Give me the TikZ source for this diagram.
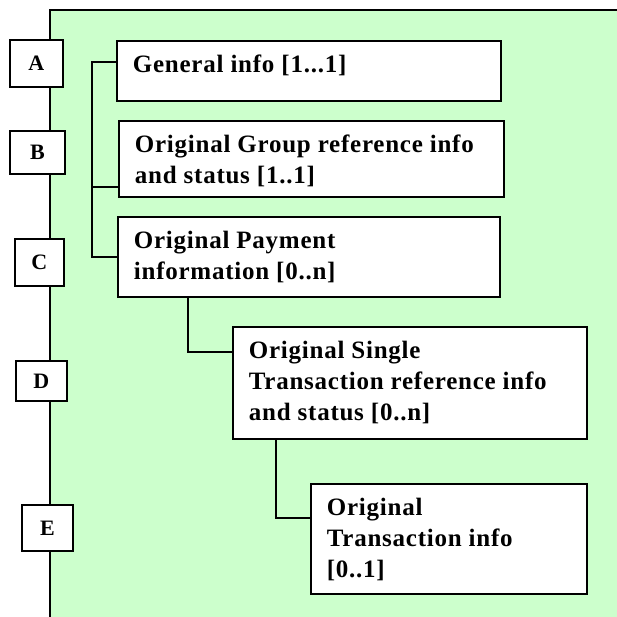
\documentclass[tikz,border=0pt]{standalone}
\usepackage{fontspec}
\setmainfont{Liberation Serif}[LetterSpace=3]
\definecolor{panelgreen}{RGB}{204,255,204}
\tikzset{
  lbl/.style={draw, fill=white, inner sep=0pt, anchor=north west,
    font=\fontsize{22}{26}\selectfont\bfseries},
  infobox/.style={draw, fill=white, inner sep=0pt, anchor=north west},
  txt/.style={anchor=north west, inner sep=0pt, align=left, xshift=16pt, yshift=-14pt,
    font=\fontsize{25}{31}\selectfont\bfseries},
  conn/.style={draw=black}
}
\begin{document}
\begin{tikzpicture}[x=1pt, y=-1pt, line width=1.8pt]
\useasboundingbox (0,0) rectangle (617,616);
% panel
\fill[panelgreen] (50,10) rectangle (617,617);
\draw (50,617) -- (50,10) -- (617,10);
% letter boxes
\node[lbl, minimum width=53pt, minimum height=47pt] (A) at (9,39) {A};
\node[lbl, minimum width=55pt, minimum height=43pt] (B) at (9,130) {B};
\node[lbl, minimum width=49pt, minimum height=47pt] (C) at (14,238) {C};
\node[lbl, minimum width=51pt, minimum height=40pt] (D) at (15,360) {D};
\node[lbl, minimum width=51pt, minimum height=46pt] (E) at (21,504) {E};
% info boxes
\node[infobox, minimum width=384pt, minimum height=60pt] (gen) at (116,40) {};
\node[infobox, minimum width=385pt, minimum height=76pt] (grp) at (118,120) {};
\node[infobox, minimum width=382pt, minimum height=80pt] (pay) at (117,216) {};
\node[infobox, minimum width=354pt, minimum height=112pt] (sgl) at (232,326) {};
\node[infobox, minimum width=276pt, minimum height=110pt] (trn) at (310,483) {};
% texts
\node[txt] (gentxt) at (gen.north west) {General info [1...1]};
\node[txt] (grptxt) at (grp.north west) {Original Group reference info\\and status [1..1]};
\node[txt] (paytxt) at (pay.north west) {Original Payment\\information [0..n]};
\node[txt] (sgltxt) at (sgl.north west) {Original Single\\Transaction reference info\\and status [0..n]};
\node[txt] (trntxt) at (trn.north west) {Original\\Transaction info\\{}[0..1]};
% connectors
\coordinate (t1) at (92,62);
\coordinate (t2) at (92,187);
\coordinate (t3) at (92,257);
\draw[conn] (t1 -| gen.west) -- (t1) -- (t3) -- (t3 -| pay.west);
\draw[conn] (t2) -- (t2 -| grp.west);
\coordinate (u1) at (188,352);
\draw[conn] (pay.south -| u1) -- (u1) -- (u1 -| sgl.west);
\coordinate (w1) at (276,518);
\draw[conn] (sgl.south -| w1) -- (w1) -- (w1 -| trn.west);
\end{tikzpicture}
\end{document}
